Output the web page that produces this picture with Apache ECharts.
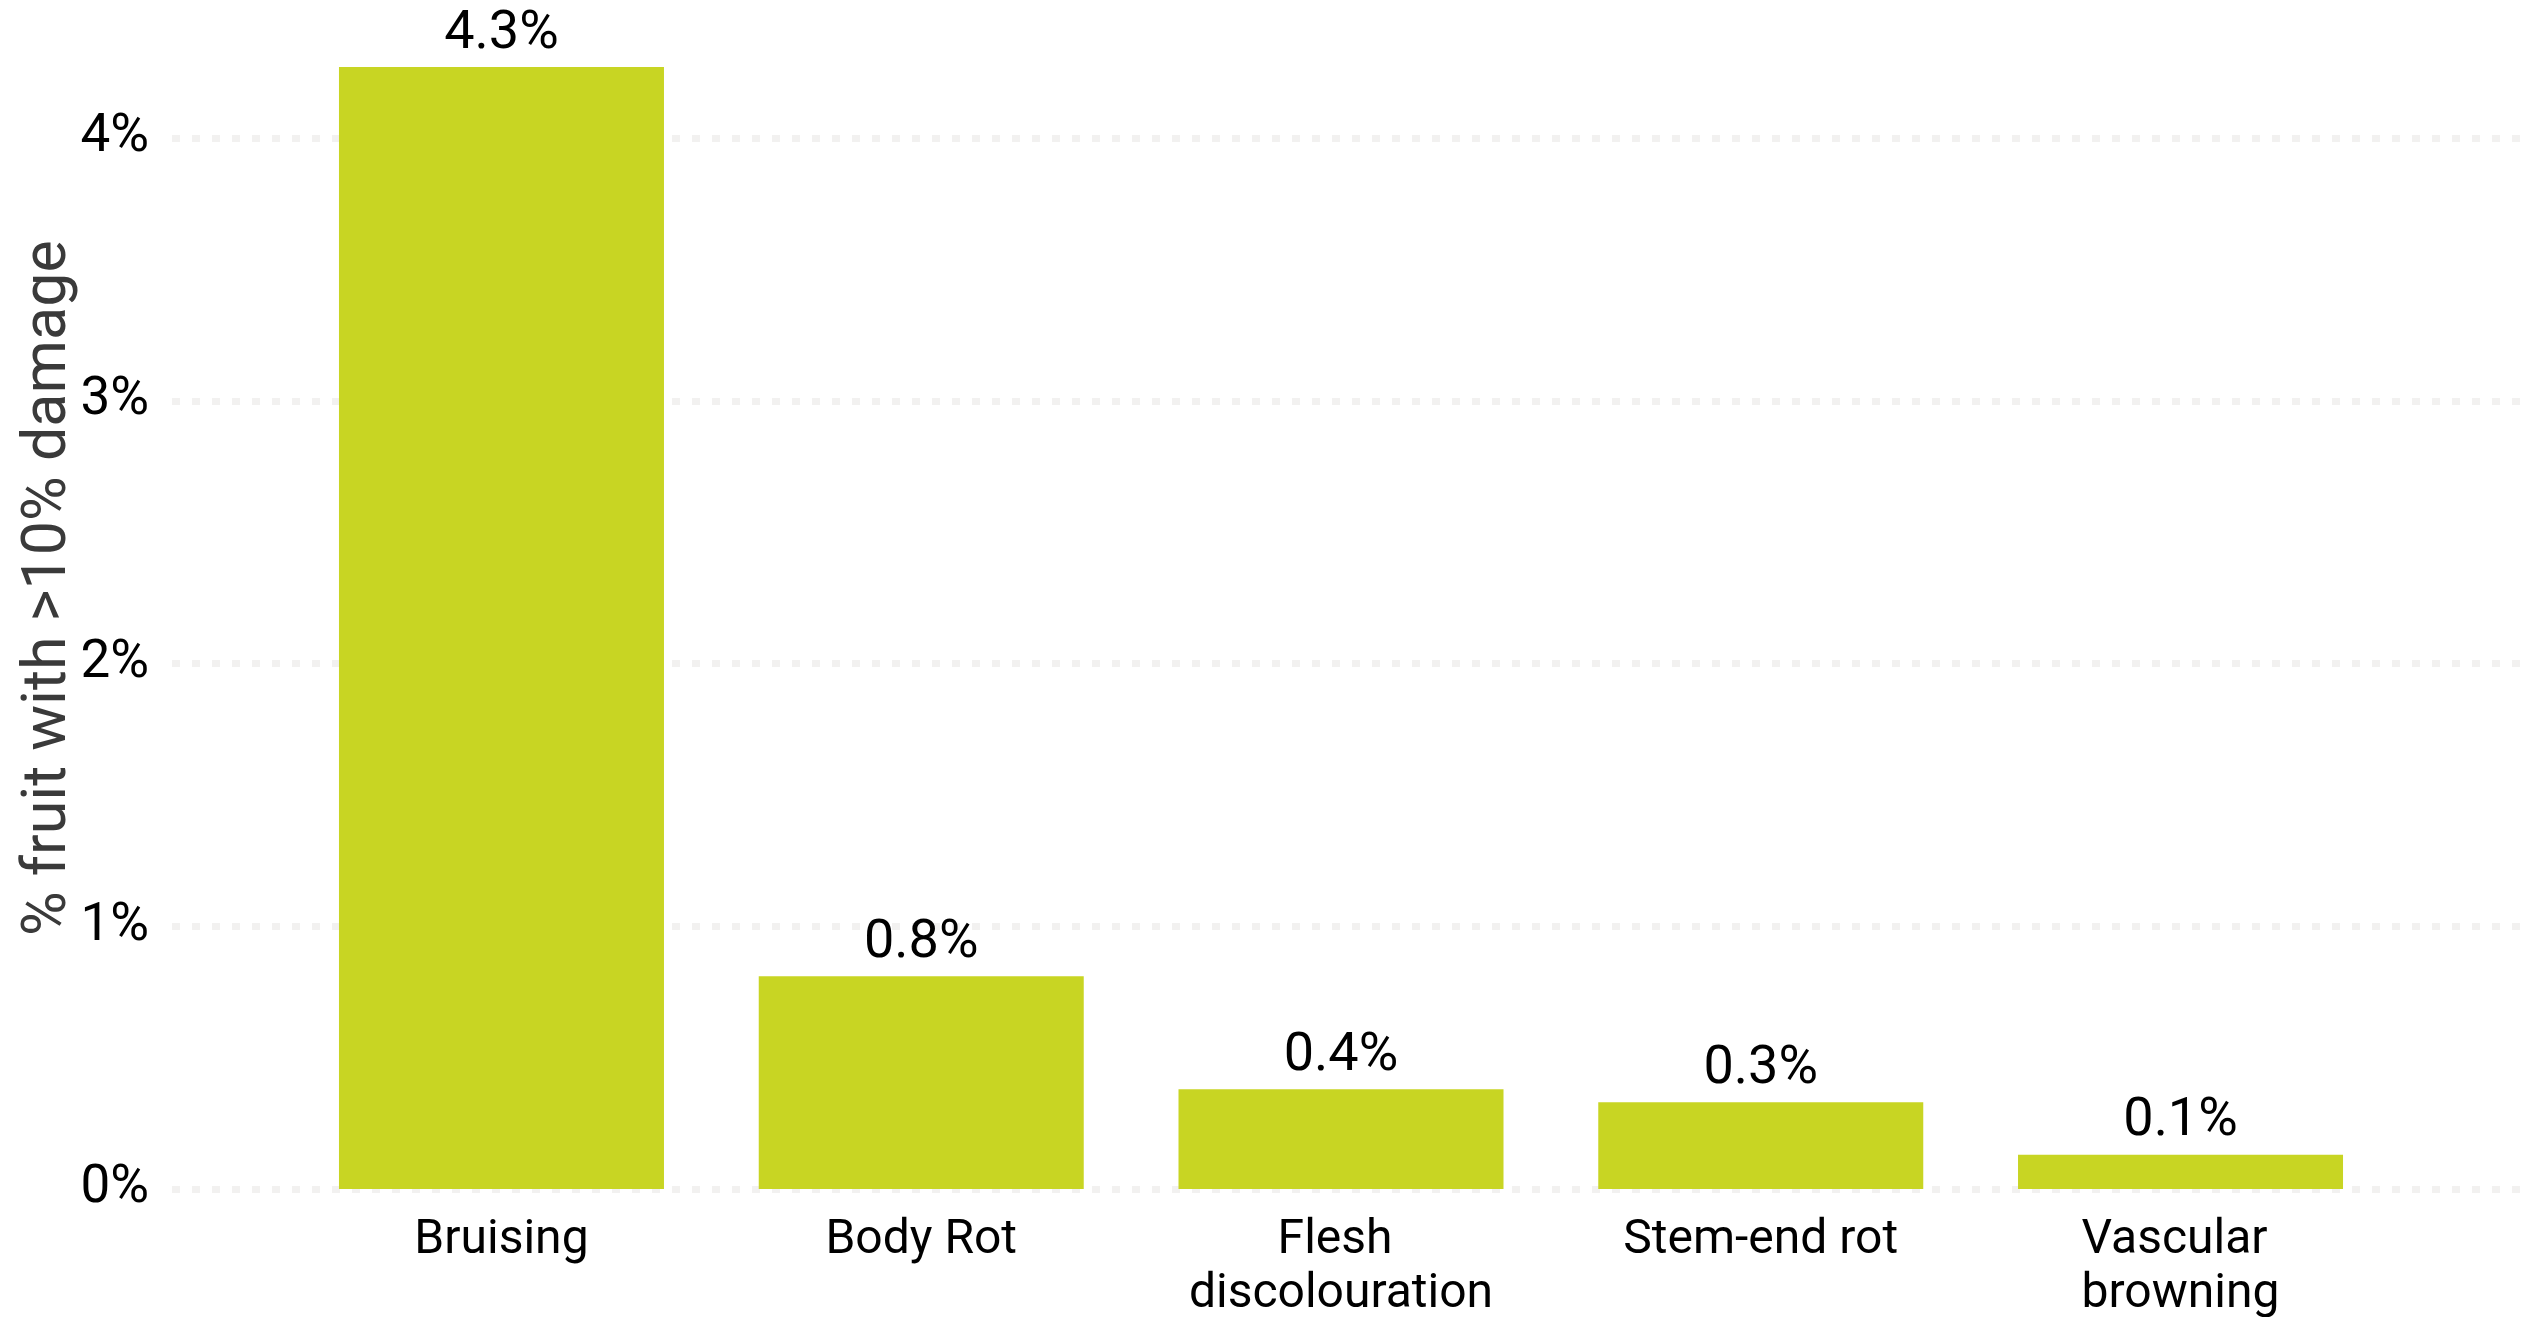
<!DOCTYPE html>
<html><head><meta charset="utf-8">
<script src="https://cdn.jsdelivr.net/npm/echarts@6/dist/echarts.min.js"></script>
<style>html,body{margin:0;padding:0;background:#fff}#c{width:2533px;height:1317px}</style>
</head><body><div id="c"></div>
<script>
// ---- data ----
const categories = ['Bruising', 'Body Rot', 'Flesh discolouration', 'Stem-end rot', 'Vascular browning'];
const damagePct = [4.27, 0.81, 0.38, 0.33, 0.13];
const yTickMin = 0;
const yTickMax = 5;
const yTickStep = 1;
const yAxisTitle = '% fruit with >10% damage';

// ---- chart ----
const FONT = 'Roboto';
const chart = echarts.init(document.getElementById('c'), null, {renderer: 'canvas'});
const gridTop = -124.75, gridBottom = 128;
chart.setOption({
  animation: false,
  backgroundColor: '#ffffff',
  textStyle: {fontFamily: FONT},
  grid: [
    {left: 172, right: 8, top: gridTop, bottom: gridBottom, containLabel: false, outerBoundsMode: 'none'},
    {left: 291.6, right: 142.6, top: gridTop, bottom: gridBottom, containLabel: false, outerBoundsMode: 'none'}
  ],
  xAxis: [
    {gridIndex: 0, type: 'value', show: false, min: 0, max: 1},
    {
      gridIndex: 1, type: 'category', data: categories,
      axisLine: {show: false}, axisTick: {show: false},
      axisLabel: {
        margin: 25, fontSize: 48, lineHeight: 54, color: '#000', fontFamily: FONT,
        width: 340, overflow: 'break', interval: 0
      }
    }
  ],
  yAxis: [
    {
      gridIndex: 0, type: 'value', min: yTickMin, max: yTickMax, interval: yTickStep,
      axisLine: {show: false}, axisTick: {show: false},
      axisLabel: {margin: 23, fontSize: 53, color: '#000', fontFamily: FONT, padding: [8, 0, 0, 0], formatter: v => v + '%'},
      splitLine: {show: true, lineStyle: {color: '#f2f1f0', width: 7, type: [8, 12]}},
      name: yAxisTitle, nameLocation: 'middle', nameRotate: 90, nameGap: 92, nameMoveOverlap: false,
      nameTextStyle: {fontSize: 61, color: '#3a3a3a', fontFamily: FONT, padding: [0, 112, 0, 0]}
    },
    {
      gridIndex: 1, type: 'value', min: yTickMin, max: yTickMax, interval: yTickStep, show: false,
      splitLine: {show: false}
    }
  ],
  series: [{
    type: 'bar', xAxisIndex: 1, yAxisIndex: 1, data: damagePct, barWidth: 325,
    itemStyle: {color: '#c8d523'},
    label: {
      show: true, position: 'top', distance: 6, fontSize: 54, color: '#000', fontFamily: FONT,
      formatter: p => p.value.toFixed(1) + '%'
    }
  }]
});
</script></body></html>
